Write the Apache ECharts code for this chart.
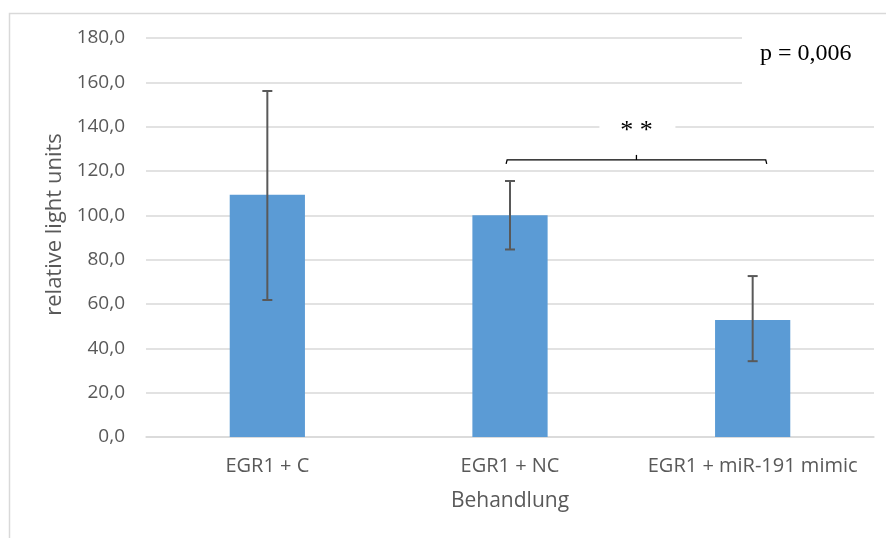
<!DOCTYPE html>
<html>
<head>
<meta charset="utf-8">
<script src="https://cdn.jsdelivr.net/npm/echarts@6/dist/echarts.min.js"></script>
<style>html,body{margin:0;padding:0;background:#fff}#c{width:886px;height:538px}</style>
</head>
<body>
<div id="c"></div>
<script>
const categories = ['EGR1 + C', 'EGR1 + NC', 'EGR1 + miR-191 mimic'];
const means = [109.3, 100.0, 52.8];
const errLow = [61.8, 84.6, 34.2];
const errHigh = [156.1, 115.5, 72.6];
const yTicks = { min: 0, max: 180, interval: 20 };
// bracket: from category 1 to category 2 (with small offsets in band units)
const bracketCats = [1, 2];
const bracketOffsets = [-0.016, 0.058];
const bracketY = 125;
const starY = 139.4;
const starLabel = '* *';
const pLabel = 'p = 0,006';

const chart = echarts.init(document.getElementById('c'), null, { renderer: 'canvas' });
const gray = '#595959';
const errData = categories.map((c, i) => [i, errLow[i], errHigh[i]]);

chart.setOption({
  animation: false,
  backgroundColor: '#fff',
  grid: { left: 146, right: 12, top: 38, bottom: 101, containLabel: false },
  xAxis: {
    type: 'category',
    data: categories,
    axisLine: { lineStyle: { color: '#D9D9D9', width: 1.5 } },
    axisTick: { show: false },
    axisLabel: { color: gray, fontSize: 20, fontFamily: 'Open Sans', margin: 19, interval: 0, hideOverlap: false },
    name: 'Behandlung',
    nameLocation: 'middle',
    nameGap: 54,
    nameTextStyle: { color: gray, fontSize: 21, fontFamily: 'Open Sans' }
  },
  yAxis: {
    type: 'value',
    min: yTicks.min, max: yTicks.max, interval: yTicks.interval,
    axisLine: { show: false },
    axisTick: { show: false },
    splitLine: { lineStyle: { color: '#D9D9D9', width: 1.5 } },
    axisLabel: {
      color: gray, fontSize: 19, fontFamily: 'Open Sans', margin: 21,
      formatter: v => v.toFixed(1).replace('.', ',')
    },
    name: 'relative light units',
    nameLocation: 'middle',
    nameGap: 78,
    nameTextStyle: { color: gray, fontSize: 22, fontFamily: 'Open Sans', padding: [0, 0, 0, 26] }
  },
  series: [
    {
      type: 'bar',
      data: means,
      barWidth: '31%',
      itemStyle: { color: '#5B9BD5' },
      z: 2
    },
    {
      type: 'custom',
      data: errData,
      z: 3,
      renderItem: function (params, api) {
        const x = api.value(0);
        const lo = api.coord([x, api.value(1)]);
        const hi = api.coord([x, api.value(2)]);
        const hw = 5;
        const st = { stroke: '#595959', lineWidth: 2 };
        return {
          type: 'group',
          children: [
            { type: 'line', shape: { x1: hi[0], y1: hi[1], x2: lo[0], y2: lo[1] }, style: st },
            { type: 'line', shape: { x1: hi[0] - hw, y1: hi[1], x2: hi[0] + hw, y2: hi[1] }, style: st },
            { type: 'line', shape: { x1: lo[0] - hw, y1: lo[1], x2: lo[0] + hw, y2: lo[1] }, style: st }
          ]
        };
      }
    },
    {
      type: 'custom',
      data: [[bracketCats[0], bracketCats[1], bracketY, starY]],
      z: 4,
      renderItem: function (params, api) {
        const band = api.size([1, 0])[0];
        const a0 = api.coord([api.value(0), api.value(2)]);
        const b0 = api.coord([api.value(1), api.value(2)]);
        const ys = api.coord([api.value(0), api.value(3)])[1];
        const ax = a0[0] + bracketOffsets[0] * band;
        const bx = b0[0] + bracketOffsets[1] * band;
        const y = a0[1];
        const mx = (ax + bx) / 2;
        const st = { stroke: '#000', lineWidth: 1.3, fill: null };
        return {
          type: 'group',
          children: [
            { type: 'polyline', shape: { points: [[ax, y + 4], [ax + 1, y], [bx - 1, y], [bx, y + 4]] }, style: st },
            { type: 'line', shape: { x1: mx, y1: y, x2: mx, y2: y - 5 }, style: st },
            { type: 'rect', shape: { x: mx - 37, y: ys - 12, width: 76, height: 24 }, style: { fill: '#fff' } },
            { type: 'text', style: { x: mx, y: ys + 3, text: starLabel, align: 'center', verticalAlign: 'middle', fill: '#000', font: '26px "Liberation Serif"' } }
          ]
        };
      }
    }
  ],
  graphic: [
    { type: 'rect', left: 7, top: 11, shape: { width: 900, height: 560 }, style: { fill: null, stroke: '#D9D9D9', lineWidth: 1.5 }, silent: true, z: 0 },
    { type: 'rect', left: 742, top: 30, shape: { width: 136, height: 58 }, style: { fill: '#fff' }, z: 100 },
    { type: 'text', left: 760, top: 42, style: { text: pLabel, fill: '#000', font: '24px "Liberation Serif"' }, z: 101 }
  ]
});
</script>
</body>
</html>
